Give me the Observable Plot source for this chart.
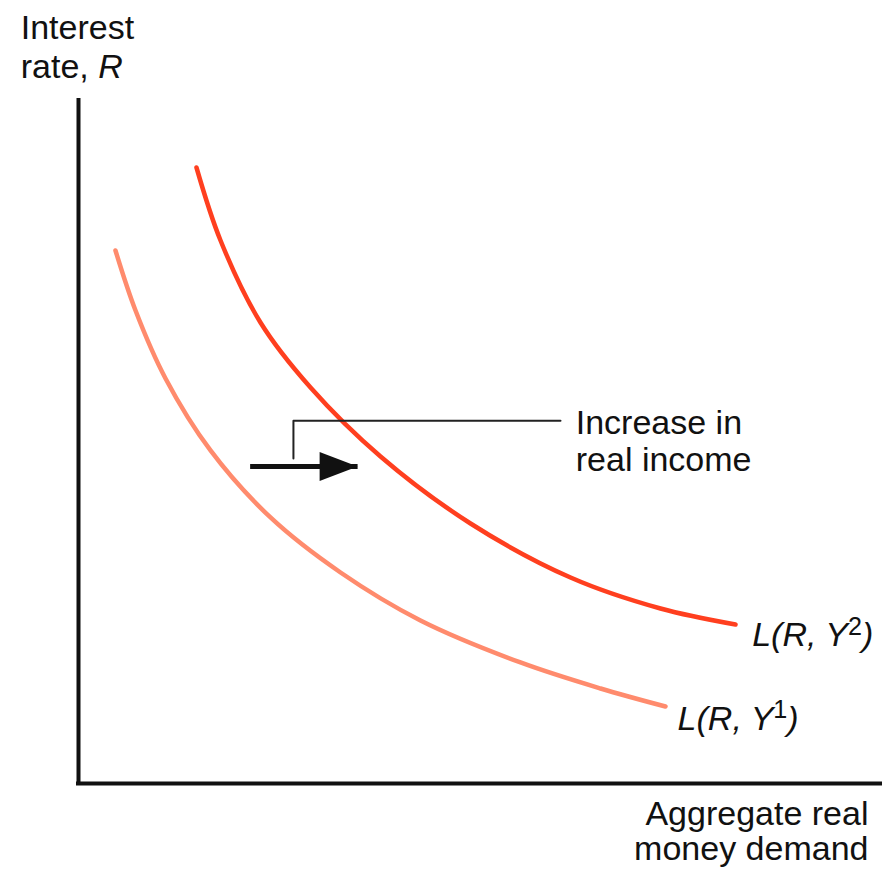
<!DOCTYPE html>
<html><head><meta charset="utf-8">
<script src="https://cdn.jsdelivr.net/npm/d3@7"></script>
<script src="https://cdn.jsdelivr.net/npm/@observablehq/plot@0.6"></script>
<style>body{margin:0;background:#fff}</style>
</head><body><div id="chart"></div>
<script>
// Money demand curve for higher income Y2 (x = aggregate real money demand, y = interest rate)
const demandY2 = [14.71, 17.71, 22.69, 28.93, 37.66, 48.88, 61.35, 72.57, 81.92];
const rateY2   = [90.19, 79.50, 67.50, 57.98, 47.88, 38.07, 30.16, 25.62, 23.28];
// Money demand curve for lower income Y1
const demandY1 = [4.61, 7.11, 10.85, 16.46, 23.94, 32.67, 42.64, 55.11, 65.09, 73.19];
const rateY1   = [78.04, 69.25, 59.30, 48.76, 38.95, 30.89, 23.87, 17.72, 13.91, 11.27];
// Shift arrow and its callout
const arrowX = [21.4, 34.8];
const arrowR = 46.4;
const calloutX = [26.8, 26.8, 60.1];
const calloutR = [47.6, 53.1, 53.1];
// Texts
const curveLabels = ["L(R, Y^1)", "L(R, Y^2)"];
const calloutText = "Increase in\nreal income";
const yTitle = "Interest\nrate, R";
const xTitle = "Aggregate real\nmoney demand";

const curve2 = demandY2.map((d, i) => ({x: d, y: rateY2[i]}));
const curve1 = demandY1.map((d, i) => ({x: d, y: rateY1[i]}));
const callout = calloutX.map((d, i) => ({x: d, y: calloutR[i]}));
const labelData = [
  {x: 74.7, y: 11.4, t: curveLabels[0]},
  {x: 84.0, y: 23.6, t: curveLabels[1]}
];

const arrowHead = {
  draw(ctx) { ctx.moveTo(0, 0); ctx.lineTo(-38, -14.5); ctx.lineTo(-38, 14.5); ctx.closePath(); }
};

const font = "'Liberation Sans', Arial, Helvetica, sans-serif";

const chart = Plot.plot({
  width: 895,
  height: 870,
  marginTop: 100,
  marginBottom: 87,
  marginLeft: 78,
  marginRight: 15,
  x: {domain: [0, 100], axis: null},
  y: {domain: [0, 100], axis: null},
  style: {fontFamily: font, background: "#fff", overflow: "visible"},
  marks: [
    Plot.ruleX([0], {y1: 0, y2: 100, stroke: "#111", strokeWidth: 4, strokeLinecap: "square"}),
    Plot.ruleY([0], {x1: 0, x2: 100, stroke: "#111", strokeWidth: 4, strokeLinecap: "square"}),
    Plot.line(curve1, {x: "x", y: "y", curve: "catmull-rom", stroke: "#ff8b6d", strokeWidth: 4.5}),
    Plot.line(curve2, {x: "x", y: "y", curve: "catmull-rom", stroke: "#ff3f1f", strokeWidth: 4.5}),
    Plot.line(callout, {x: "x", y: "y", stroke: "#222", strokeWidth: 2}),
    Plot.link([{x1: arrowX[0], x2: arrowX[1], y: arrowR}], {x1: "x1", x2: "x2", y1: "y", y2: "y", stroke: "#111", strokeWidth: 5}),
    Plot.dot([{x: arrowX[1], y: arrowR}], {x: "x", y: "y", symbol: arrowHead, fill: "#111", stroke: "none", r: 10}),
    Plot.text([calloutText], {x: 62.0, y: 55.05, text: d => d, textAnchor: "start", lineAnchor: "top", lineHeight: 1.09, fontSize: 34, fill: "#111"}),
    Plot.text(labelData, {x: "x", y: "y", text: "t", textAnchor: "start", lineAnchor: "top", fontSize: 34, fontStyle: "italic", fill: "#111", className: "curve-label"}),
    Plot.text([yTitle], {x: -7.2, y: 112.9, text: d => d, textAnchor: "start", lineAnchor: "top", lineHeight: 1.12, fontSize: 34, fill: "#111", className: "y-title"}),
    Plot.text([xTitle], {x: 98.5, y: -2.4, text: d => d, textAnchor: "end", lineAnchor: "top", lineHeight: 1.04, fontSize: 34, fill: "#111"})
  ]
});

document.getElementById("chart").appendChild(chart);

// superscripts in curve labels
d3.select(chart).selectAll(".curve-label text").each(function() {
  const t = this.textContent;
  const m = t.match(/^(.*)\^(\d)(.*)$/);
  if (!m) return;
  const sel = d3.select(this);
  sel.text(null);
  sel.append("tspan").text(m[1]);
  sel.append("tspan").attr("dy", "-0.45em").attr("font-size", "0.74em").attr("font-style", "normal").text(m[2]);
  sel.append("tspan").attr("dy", "0.33em").text(m[3]);
});
// italic R in y title
d3.select(chart).selectAll(".y-title tspan").each(function() {
  const t = this.textContent;
  if (t.endsWith(", R")) {
    const sel = d3.select(this);
    sel.text(t.slice(0, -1));
    sel.append("tspan").attr("font-style", "italic").text("R");
  }
});
</script>
</body></html>
